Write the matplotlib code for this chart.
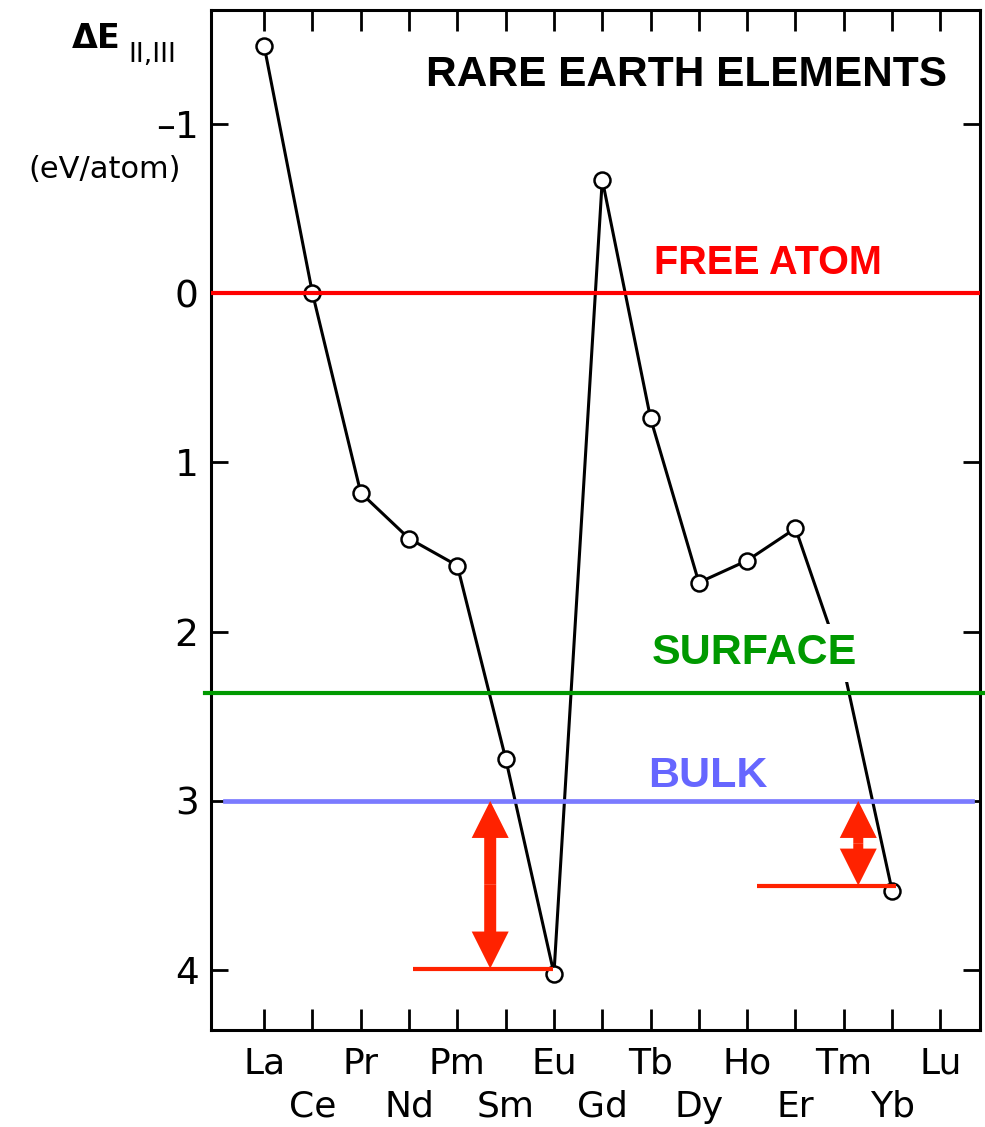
import numpy as np
import matplotlib
matplotlib.use("Agg")
import matplotlib.pyplot as plt
from matplotlib.patches import FancyArrow

# ---- data ----
elements = ['La', 'Ce', 'Pr', 'Nd', 'Pm', 'Sm', 'Eu', 'Gd',
            'Tb', 'Dy', 'Ho', 'Er', 'Tm', 'Yb', 'Lu']
point_elements = ['La', 'Ce', 'Pr', 'Nd', 'Pm', 'Sm', 'Eu', 'Gd',
                  'Tb', 'Dy', 'Ho', 'Er', 'Tm', 'Yb']
delta_e = [-1.46, 0.0, 1.18, 1.45, 1.61, 2.75, 4.02, -0.67,
           0.74, 1.71, 1.58, 1.39, 2.22, 3.53]
y_ticks = [-1, 0, 1, 2, 3, 4]
y_tick_labels = ['\u20131', '0', '1', '2', '3', '4']
free_atom_level = 0.0
surface_level = 2.36
bulk_level = 3.0
eu_level = 3.99
yb_level = 3.50

W, H = 985, 1127
fig = plt.figure(figsize=(W / 100, H / 100), dpi=100)
L, R, T, B = 211, 980, 10, 1030
ax = fig.add_axes([L / W, 1 - B / H, (R - L) / W, (B - T) / H])

x = np.array([elements.index(e) for e in point_elements])
ax.plot(x, delta_e, color='black', lw=2.2, marker='o', ms=11.5,
        mfc='white', mec='black', mew=1.8, zorder=2)

ax.set_xlim(-1.10, 14.82)
ax.set_ylim(4.353, -1.672)

# reference levels
ax.axhline(free_atom_level, xmin=0.0, xmax=1.0, color='#ff0000', lw=3.0, zorder=3)
ax.axhline(surface_level, xmin=-0.008, xmax=1.0065, color='#009900', lw=3.0,
           zorder=3, clip_on=False)
ax.axhline(bulk_level, xmin=0.018, xmax=0.99, color='#7b7bff', lw=3.4, zorder=3)

red2 = '#ff2200'
ax.plot([3.08, 5.98], [eu_level, eu_level], color=red2, lw=3.0, zorder=3,
        solid_capstyle='butt')
ax.plot([10.2, 13.08], [yb_level, yb_level], color=red2, lw=3.0, zorder=3,
        solid_capstyle='butt')

# double-headed arrows
px_x = 48.3   # pixels per x unit
px_y = 169.3  # pixels per y unit
def double_arrow(xc, y0, y1, shaft_px=12, head_w_px=37, head_l_px=37):
    mid = (y0 + y1) / 2
    for a, b in ((mid, y0), (mid, y1)):
        ax.add_patch(FancyArrow(xc, a, 0, b - a, width=shaft_px / px_x,
                                head_width=head_w_px / px_x,
                                head_length=head_l_px / px_y,
                                length_includes_head=True,
                                color=red2, lw=0, zorder=4))

double_arrow(4.68, bulk_level, eu_level)
double_arrow(12.30, bulk_level, yb_level, shaft_px=10)

# ticks: upper row on major ticks, lower row on minor ticks
idx = list(range(len(elements)))
ax.set_xticks(idx[0::2])
ax.set_xticklabels(elements[0::2], fontsize=26, family='DejaVu Sans')
ax.set_xticks(idx[1::2], minor=True)
ax.set_xticklabels(elements[1::2], minor=True, fontsize=26, family='DejaVu Sans')
ax.set_yticks(y_ticks)
ax.set_yticklabels(y_tick_labels, fontsize=27, family='DejaVu Sans')
ax.tick_params(axis='x', which='both', direction='in', length=15, width=2,
               top=True, bottom=True)
ax.tick_params(axis='x', which='major', pad=12)
ax.tick_params(axis='x', which='minor', pad=43)
ax.tick_params(axis='y', direction='in', length=12, width=2, left=True,
               right=True, pad=9)
ax.tick_params(axis='y', which='minor', left=False, right=False)
for s in ax.spines.values():
    s.set_linewidth(2.2)

# annotations (figure pixel coords)
def ftext(px, py, s, **kw):
    fig.text(px / W, 1 - py / H, s, **kw)

ftext(687, 86, 'RARE EARTH ELEMENTS', ha='center', va='baseline', fontsize=30.5,
      fontweight='bold', family='Liberation Sans', color='black')
ftext(768, 274, 'FREE ATOM', ha='center', va='baseline', fontsize=28.5,
      fontweight='bold', family='Liberation Sans', color='#ff0000')
ftext(754, 664, 'SURFACE', ha='center', va='baseline', fontsize=31,
      fontweight='bold', family='Liberation Sans', color='#009900', zorder=5,
      bbox=dict(boxstyle='square,pad=0.2', fc='white', ec='none'))
ftext(708, 787, 'BULK', ha='center', va='baseline', fontsize=31,
      fontweight='bold', family='Liberation Sans', color='#6666ff')

ftext(72, 48, '\u0394E', ha='left', va='baseline', fontsize=24,
      fontweight='bold', family='DejaVu Sans', color='black')
ftext(128, 62, 'II,III', ha='left', va='baseline', fontsize=19,
      family='DejaVu Sans', color='black')
ftext(105, 178, '(eV/atom)', ha='center', va='baseline', fontsize=22,
      family='DejaVu Sans', color='black')

fig.savefig('out.png', dpi=100)
